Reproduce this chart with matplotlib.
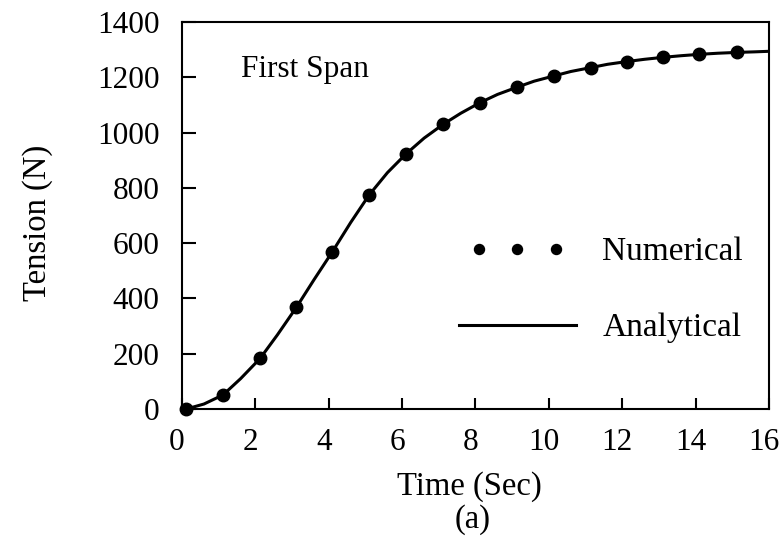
import matplotlib.pyplot as plt
import matplotlib as mpl
from matplotlib.transforms import ScaledTranslation
from matplotlib.legend_handler import HandlerLine2D

mpl.rcParams['font.family'] = ['Liberation Serif', 'DejaVu Serif']

# Numerical points
time_num = [0.12, 1.12, 2.13, 3.12, 4.1, 5.1, 6.1, 7.12, 8.12, 9.13, 10.14, 11.14, 12.13, 13.1, 14.1, 15.12]
tension_num = [0, 51, 183, 368, 569, 774, 922, 1030, 1108, 1164, 1205, 1235, 1257, 1272, 1283, 1290]

# Analytical curve
time_ana = [0.12, 0.6, 1.12, 1.6, 2.13, 2.6, 3.12, 3.6, 4.1, 4.6, 5.1, 5.6, 6.1, 6.6, 7.12, 7.6,
            8.12, 8.6, 9.13, 9.6, 10.14, 10.6, 11.14, 11.6, 12.13, 12.6, 13.1, 13.6, 14.1, 14.6,
            15.12, 15.6, 16.0]
tension_ana = [0, 18, 51, 110, 183, 268, 368, 468, 569, 675, 774, 855, 922, 980, 1030, 1070,
               1108, 1138, 1164, 1186, 1205, 1221, 1235, 1247, 1257, 1265, 1272, 1278, 1283, 1287,
               1290, 1292, 1294]

x_ticks = [0, 2, 4, 6, 8, 10, 12, 14, 16]
y_ticks = [0, 200, 400, 600, 800, 1000, 1200, 1400]

fig = plt.figure(figsize=(7.82, 5.38), dpi=100)
ax = fig.add_axes([0.2327, 0.2398, 0.7507, 0.7193])

num_line, = ax.plot(time_num, tension_num, 'o', color='black', markersize=9, label='Numerical',
                    clip_on=False, zorder=3)
ax.plot(time_ana, tension_ana, '-', color='black', linewidth=2.2, label='Analytical', zorder=2)

ax.set_xlim(0, 16)
ax.set_ylim(0, 1400)
ax.set_xticks(x_ticks)
ax.set_yticks(y_ticks)
ax.tick_params(direction='in', width=1.5, labelsize=22.5, top=False, right=False)
ax.tick_params(axis='x', length=8, pad=14)
ax.tick_params(axis='y', length=10, pad=16)
for s in ax.spines.values():
    s.set_linewidth(1.5)
# x tick labels sit a little left of their ticks in the original
shift = ScaledTranslation(-5 / 100, 0, fig.dpi_scale_trans)
for lab in ax.get_xticklabels():
    lab.set_transform(lab.get_transform() + shift)

ax.set_xlabel('Time (Sec)', fontsize=23.5)
ax.xaxis.set_label_coords(0.49, -0.16)
ax.set_ylabel('Tension (N)', fontsize=23.5)
ax.yaxis.set_label_coords(-0.22, 0.48)
fig.text(0.605, 0.035, '(a)', fontsize=23.5, ha='center', va='center')

ax.text(1.6, 1202, 'First Span', fontsize=22.5, va='baseline')

handles, labels = ax.get_legend_handles_labels()
leg = ax.legend(handles, labels, loc='upper left', bbox_to_anchor=(0.472, 0.445), frameon=False,
                fontsize=24, handlelength=3.5, handletextpad=0.8, labelspacing=1.37,
                markerscale=0.8, borderpad=0, borderaxespad=0,
                handler_map={num_line: HandlerLine2D(numpoints=3, marker_pad=0.6)})

fig.savefig('out.png', dpi=100)
